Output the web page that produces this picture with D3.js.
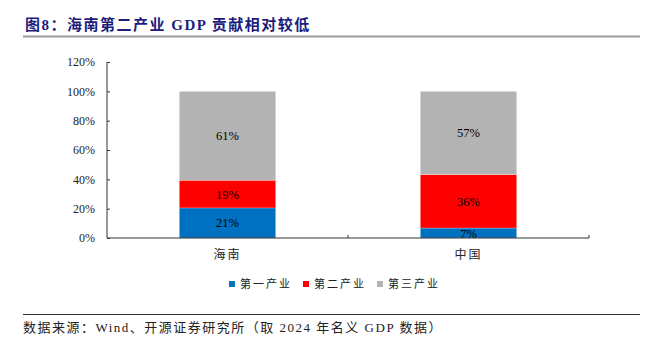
<!DOCTYPE html>
<html>
<head>
<meta charset="utf-8">
<script src="https://cdn.jsdelivr.net/npm/d3@7"></script>
<style>
  body { margin: 0; background: #fff; }
  svg { display: block; }
</style>
</head>
<body>
<svg id="chart" width="653" height="350"></svg>
<script>
const categories = ["海南", "中国"];
const seriesNames = ["第一产业", "第二产业", "第三产业"];
const seriesColors = ["#0070C0", "#FF0000", "#B3B3B3"];
const primary = [20.5, 6.8];
const secondary = [18.9, 36.4];
const tertiary = [60.6, 56.8];
const yTicks = [0, 20, 40, 60, 80, 100, 120];

const W = 653, H = 350;
const m = { top: 62, right: 64, bottom: 112, left: 107 };
const iW = W - m.left - m.right;
const iH = H - m.top - m.bottom;

const serif = "'Liberation Serif','Times New Roman',serif";
const cjk = "'Liberation Serif','Noto Sans CJK SC',sans-serif";

const rows = categories.map((c, i) => ({ cat: c, s0: primary[i], s1: secondary[i], s2: tertiary[i] }));
const stacked = d3.stack().keys(["s0", "s1", "s2"])(rows);

const svg = d3.select("#chart");

// Title
svg.append("text")
  .attr("x", 25).attr("y", 30)
  .style("fill", "#1c1c7c").style("font-size", "15px").style("font-weight", "700")
  .style("letter-spacing", "1.5px").style("font-family", cjk)
  .text("图8：海南第二产业 GDP 贡献相对较低");
svg.append("line")
  .attr("x1", 23).attr("x2", 640).attr("y1", 36.5).attr("y2", 36.5)
  .attr("stroke", "#9a9a9a").attr("stroke-width", 2);

const g = svg.append("g").attr("transform", `translate(${m.left},${m.top})`);

const x = d3.scaleBand().domain(categories).range([0, iW]).paddingInner(0.6).paddingOuter(0.3);
const xb = d3.scaleBand().domain(categories).range([0, iW]);
const y = d3.scaleLinear().domain([0, 120]).range([iH, 0]);
const color = d3.scaleOrdinal().domain(["s0", "s1", "s2"]).range(seriesColors);

// Bars
const layer = g.selectAll(".layer").data(stacked).join("g").attr("class", "layer")
  .attr("fill", d => color(d.key));
layer.selectAll("rect").data(d => d).join("rect")
  .attr("x", d => x(d.data.cat))
  .attr("y", d => y(d[1]))
  .attr("width", x.bandwidth())
  .attr("height", d => y(d[0]) - y(d[1]))
  .attr("stroke", "#fff").attr("stroke-opacity", 0.5).attr("stroke-width", 0.5);

// Value labels
layer.selectAll("text").data(d => d).join("text")
  .attr("x", d => x(d.data.cat) + x.bandwidth() / 2)
  .attr("y", d => y((d[0] + d[1]) / 2))
  .attr("dy", "0.36em")
  .attr("text-anchor", "middle")
  .style("fill", "#000").style("font-size", "12.5px").style("font-family", serif)
  .text(d => Math.round(d[1] - d[0]) + "%");

// Y axis
g.append("g")
  .call(d3.axisLeft(y).tickValues(yTicks).tickSize(-3).tickPadding(12).tickFormat(d => d + "%"))
  .call(ax => {
    ax.select(".domain").attr("stroke", "#333").attr("d", `M0,${iH}V0`);
    ax.selectAll(".tick line").attr("stroke", "#333");
    ax.selectAll(".tick text").style("fill", "#222").style("font-size", "12px").style("font-family", serif);
  });

// X axis
g.append("g")
  .attr("transform", `translate(0,${iH})`)
  .call(d3.axisBottom(xb).tickSize(0).tickPadding(12))
  .call(ax => {
    ax.select(".domain").attr("stroke", "#333").attr("d", `M0,0H${iW}`);
    ax.selectAll(".tick text").style("fill", "#222").style("font-size", "12px")
      .style("font-family", "'Noto Sans CJK SC',sans-serif").style("letter-spacing", "2px");
  });
g.append("g").selectAll("line").data([iW / 2, iW]).join("line")
  .attr("x1", d => d).attr("x2", d => d).attr("y1", iH).attr("y2", iH - 3)
  .attr("stroke", "#333");

// Legend
const legendX = [229, 303, 377];
const lg = svg.append("g").selectAll("g").data(seriesNames).join("g")
  .attr("transform", (d, i) => `translate(${legendX[i]},284)`);
lg.append("rect").attr("x", 0).attr("y", -3).attr("width", 6).attr("height", 6)
  .attr("fill", (d, i) => seriesColors[i]);
lg.append("text").attr("x", 11).attr("dy", "0.36em")
  .style("fill", "#222").style("font-size", "11px").style("letter-spacing", "2px")
  .style("font-family", "'Noto Sans CJK SC',sans-serif")
  .text(d => d);

// Source
svg.append("line")
  .attr("x1", 23).attr("x2", 640).attr("y1", 314.5).attr("y2", 314.5)
  .attr("stroke", "#333").attr("stroke-width", 1);
svg.append("text")
  .attr("x", 23).attr("y", 332)
  .style("fill", "#222").style("font-size", "13px").style("letter-spacing", "1.5px").style("font-family", cjk)
  .text("数据来源：Wind、开源证券研究所（取 2024 年名义 GDP 数据）");
</script>
</body>
</html>
